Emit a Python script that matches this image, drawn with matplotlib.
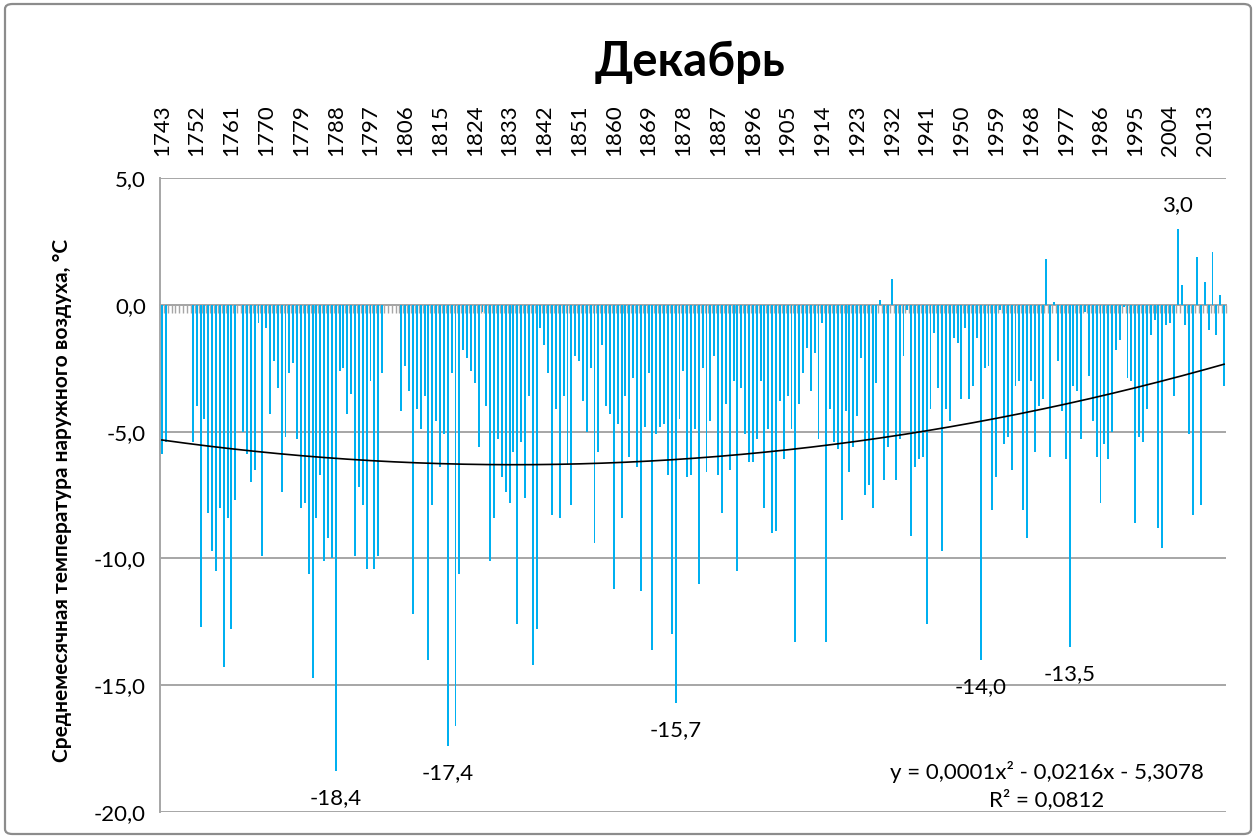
import numpy as np
import matplotlib.pyplot as plt
from matplotlib.patches import FancyBboxPatch

plt.rcParams['font.family'] = ['Lato', 'DejaVu Sans']

# December mean air temperature, °C, one value per year from 1743 (None = no data)
first_year = 1743
temps = [
    -5.9, -5.4, None, None, None, None, None, None, -5.4, -4.0,
    -12.7, -4.5, -8.2, -9.7, -10.5, -8.0, -14.3, -8.4, -12.8, -7.7,
    None, -5.0, -5.9, -7.0, -6.5, -0.7, -9.9, -0.9, -4.3, -2.2,
    -3.3, -7.4, -5.2, -2.7, -2.3, -5.3, -8.0, -7.8, -10.6, -14.7,
    -8.4, -6.7, -10.1, -9.2, -10.0, -18.4, -2.6, -2.5, -4.3, -3.5,
    -9.9, -7.2, -7.9, -10.4, -3.0, -10.4, -9.9, -2.7, None, None,
    None, None, -4.2, -2.4, -3.4, -12.2, -4.1, -4.9, -3.6, -14.0,
    -7.9, -4.6, -6.4, -5.1, -17.4, -2.7, -16.6, -10.6, -1.8, -2.1,
    -2.6, -3.1, -5.6, -0.3, -4.0, -10.1, -8.4, -5.3, -6.8, -7.4,
    -7.8, -5.8, -12.6, -5.4, -7.6, -3.6, -14.2, -12.8, -0.9, -1.6,
    -2.7, -8.3, -4.1, -8.4, -3.6, -6.3, -7.9, -2.0, -2.2, -3.8,
    -5.0, -2.5, -9.4, -5.8, -1.6, -4.0, -4.3, -11.2, -4.7, -8.4,
    -3.6, -6.0, -2.9, -6.4, -11.3, -4.8, -2.7, -13.6, -5.1, -4.8,
    -4.7, -6.7, -13.0, -15.7, -4.5, -2.6, -6.8, -6.7, -4.9, -11.0,
    -2.5, -6.6, -4.6, -2.0, -6.7, -8.2, -3.9, -6.5, -3.0, -10.5,
    -3.3, -5.1, -6.2, -6.2, -5.3, -3.0, -8.0, -4.9, -9.0, -8.9,
    -3.8, -6.1, -3.6, -4.9, -13.3, -3.9, -2.7, -1.7, -3.4, -1.9,
    -5.3, -0.7, -13.3, -4.1, -5.4, -5.7, -8.5, -4.2, -6.6, -5.6,
    -4.4, -2.1, -7.5, -7.1, -8.0, -3.1, 0.2, -6.9, -5.6, 1.0,
    -6.9, -5.3, -2.0, -0.2, -9.1, -6.4, -6.1, -6.0, -12.6, -4.1,
    -1.1, -3.3, -9.7, -4.1, -4.6, -1.3, -1.5, -3.7, -0.9, -3.7,
    -3.2, -1.3, -14.0, -2.5, -2.4, -8.1, -6.8, -0.2, -5.5, -5.2,
    -6.5, -3.2, -3.0, -8.1, -9.2, -3.0, -5.8, -4.0, -3.7, 1.8,
    -6.0, 0.1, -2.2, -4.2, -6.1, -13.5, -3.2, -3.4, -5.3, -0.3,
    -2.8, -4.6, -6.0, -7.8, -5.5, -6.1, -5.0, -1.8, -1.4, -0.1,
    -2.9, -3.0, -8.6, -5.2, -5.4, -4.1, -1.2, -0.6, -8.8, -9.6,
    -0.8, -0.7, -3.6, 3.0, 0.8, -0.8, -5.1, -8.3, 1.9, -7.9,
    0.9, -1.0, 2.1, -1.2, 0.4, -3.2,
]
marked_years = [1788, 1817, 1876, 1955, 1978, 2006]
y_ticks = [-20, -15, -10, -5, 0, 5]

n = len(temps)
years = np.arange(first_year, first_year + n)
pos = np.arange(n)
t = np.array([np.nan if v is None else v for v in temps])
ok = ~np.isnan(t)

W, H = 1260, 838
fig = plt.figure(figsize=(W / 100, H / 100), dpi=100)
ax = fig.add_axes([160 / W, 26 / H, 1066 / W, 634 / H])

ax.bar(pos[ok], t[ok], width=0.5, color='#00B0F0', zorder=3)

# polynomial trend (order 2) as the spreadsheet does it:
# x counted from 1, empty cells taken as zero
x = pos + 1
coef = np.polyfit(x, np.nan_to_num(t), 2)
ax.plot(pos, np.polyval(coef, x), color='black', lw=1.2, zorder=4)

ax.set_xlim(-0.5, n - 0.5)
ax.set_ylim(-20, 5)
ax.set_yticks(y_ticks)
ax.set_yticklabels([f'{v:.1f}'.replace('.', ',') for v in y_ticks])
ax.yaxis.grid(True, color='#A6A6A6', lw=1.4)
ax.set_axisbelow(True)

for s in ['top', 'right']:
    ax.spines[s].set_visible(False)
ax.spines['left'].set_color('#A6A6A6')
ax.spines['left'].set_linewidth(1.4)
ax.spines['bottom'].set_position(('data', 0))
ax.spines['bottom'].set_color('#A6A6A6')
ax.spines['bottom'].set_linewidth(1.4)

lab = pos[::9]
ax.set_xticks(lab)
ax.set_xticklabels([str(y) for y in years[::9]])
ax.set_xticks(np.arange(-0.5, n, 1), minor=True)
ax.tick_params(axis='x', which='major', bottom=False, top=False,
               labelbottom=False, labeltop=True, labelrotation=90,
               labelsize=16, pad=12)
ax.tick_params(axis='x', which='minor', bottom=True, top=False,
               direction='out', length=6, width=1, color='#A6A6A6')
ax.tick_params(axis='y', length=0, labelsize=16, pad=10)

for yr in marked_years:
    i = yr - first_year
    v = t[i]
    off = 24 if v > 0 else -27
    ax.annotate(f'{v:.1f}'.replace('.', ','), (i, v), xytext=(0, off),
                textcoords='offset pixels', ha='center', va='center',
                fontsize=16)

fig.text(1047 / W, 1 - 772 / H, 'y = 0,0001x² - 0,0216x - 5,3078',
         ha='center', va='center', fontsize=16)
fig.text(1047 / W, 1 - 800 / H, 'R² = 0,0812',
         ha='center', va='center', fontsize=16)

fig.text(690 / W, 1 - 62 / H, 'Декабрь', ha='center', va='center',
         fontsize=34, fontweight='bold')
fig.text(62 / W, 1 - 500 / H,
         'Среднемесячная температура наружного воздуха, °C',
         rotation=90, ha='center', va='center', fontsize=15,
         fontweight='bold')

border = FancyBboxPatch((5 / W, 4 / H), 1246 / W, 830 / H,
                        boxstyle='round,pad=0,rounding_size=0.006',
                        transform=fig.transFigure, fill=False,
                        edgecolor='#8C8C8C', lw=1.6)
fig.add_artist(border)

fig.savefig('out.png', dpi=100)
